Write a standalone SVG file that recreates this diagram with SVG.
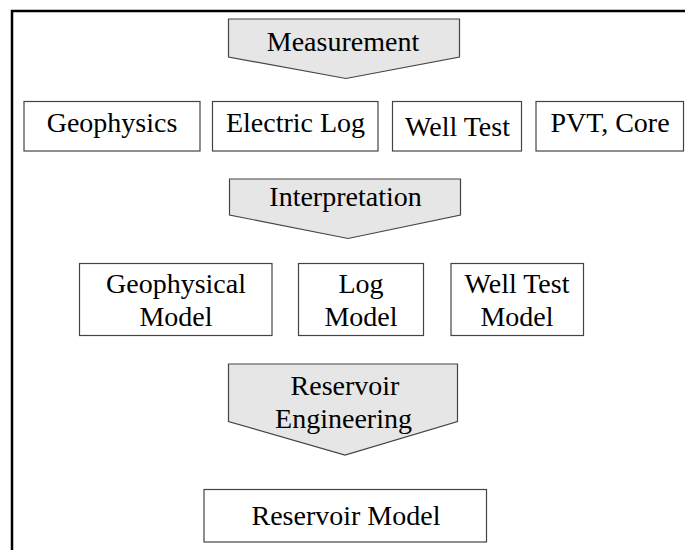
<svg xmlns="http://www.w3.org/2000/svg" width="685" height="550" viewBox="0 0 685 550">
<style>
.frame{fill:none;stroke:#000;stroke-width:2.5}
.box{fill:#fff;stroke:#444;stroke-width:1.2}
.arr{fill:#e6e6e6;stroke:#444;stroke-width:1.2}
text{font-family:"Liberation Serif","Times New Roman",serif;font-size:28px;fill:#000;text-anchor:middle}
</style>
<rect width="685" height="550" fill="#fff"/>
<rect class="frame" x="12" y="11" width="720" height="600"/>
<g id="connectors"/>
<g id="measurement">
<polygon class="arr" points="228.5,19 459.5,19 459.5,57 346,78.5 228.5,57"/>
<text x="343" y="51">Measurement</text>
</g>
<g id="geophysics">
<rect class="box" x="24" y="101.5" width="176" height="49.5"/>
<text x="112" y="132">Geophysics</text>
</g>
<g id="electric-log">
<rect class="box" x="212.5" y="101.5" width="165.5" height="49.5"/>
<text x="295.5" y="132">Electric Log</text>
</g>
<g id="well-test">
<rect class="box" x="392.5" y="101.5" width="129" height="49.5"/>
<text x="457.5" y="135.5">Well Test</text>
</g>
<g id="pvt-core">
<rect class="box" x="536" y="101.5" width="147.5" height="49.5"/>
<text x="610" y="132">PVT, Core</text>
</g>
<g id="interpretation">
<polygon class="arr" points="229.5,179 460.5,179 460.5,215 348,238.5 229.5,215"/>
<text x="345.5" y="206">Interpretation</text>
</g>
<g id="geophysical-model">
<rect class="box" x="79.5" y="263.5" width="192.5" height="72"/>
<text x="176" y="293">Geophysical</text>
<text x="176" y="326">Model</text>
</g>
<g id="log-model">
<rect class="box" x="298.5" y="263.5" width="125" height="72"/>
<text x="361" y="293">Log</text>
<text x="361" y="326">Model</text>
</g>
<g id="well-test-model">
<rect class="box" x="451" y="263.5" width="132.5" height="72"/>
<text x="517" y="293">Well Test</text>
<text x="517" y="326">Model</text>
</g>
<g id="reservoir-engineering">
<polygon class="arr" points="228.5,364 457.5,364 457.5,421.5 345,455 228.5,421.5"/>
<text x="345" y="395">Reservoir</text>
<text x="343.5" y="428">Engineering</text>
</g>
<g id="reservoir-model">
<rect class="box" x="204" y="489.5" width="282.5" height="52.5"/>
<text x="346" y="524.5">Reservoir Model</text>
</g>
</svg>
